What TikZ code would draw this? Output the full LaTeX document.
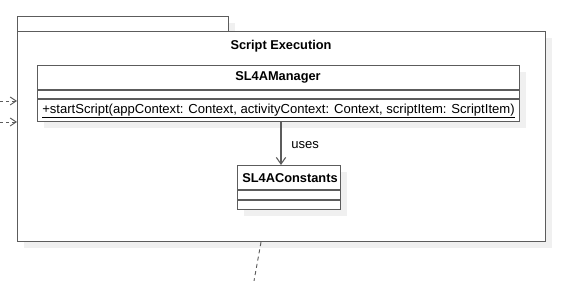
\documentclass[tikz,border=0pt]{standalone}
\usepackage{fontspec}
\setmainfont{Liberation Sans}
\usetikzlibrary{arrows.meta}

\definecolor{umlline}{HTML}{5C5C5C}
\definecolor{umlshade}{HTML}{F0F0F0}

\tikzset{
	umlbox/.style={draw=umlline, fill=white, line width=0.9pt, inner sep=0pt, anchor=north west},
	umlshadow/.style={fill=umlshade},
	umltitle/.style={font=\bfseries\fontsize{9.6}{11}\selectfont, inner sep=0pt},
	umltext/.style={font=\fontsize{9.8}{11}\selectfont, inner sep=0pt},
	uses/.style={draw=umlline, line width=0.9pt, -{Straight Barb[length=5pt, width=7pt, line width=0.8pt]}},
	dep/.style={draw=umlline, line width=0.7pt, dash pattern=on 2.5pt off 2pt, -{Straight Barb[length=4.5pt, width=6pt, line width=0.7pt]}}
}

\begin{document}
\begin{tikzpicture}[x=0.75pt, y=-0.75pt]
\useasboundingbox (0,0) rectangle (565,281);

% package with its tab
\fill[umlshadow] (24,23) rectangle (235,31);
\fill[umlshadow] (24,38) rectangle (552,248);
\node[umlbox, minimum width=158.25pt, minimum height=11.25pt] (pkgtab) at (17,16) {};
\node[umlbox, minimum width=396pt, minimum height=157.5pt] (pkg) at (17,31) {};
\node[umltitle] (pkgname) at (281,46) {Script Execution};

% SL4AManager
\fill[umlshadow] (44,72) rectangle (526,128);
\node[umlbox, minimum width=361.5pt, minimum height=42pt] (mgr) at (37,65) {};
\draw[draw=umlline, line width=0.9pt] (mgr.west |- 0,90) -- (mgr.east |- 0,90);
\draw[draw=umlline, line width=0.9pt] (mgr.west |- 0,99) -- (mgr.east |- 0,99);
\node[umltitle] (mgrname) at (278,77) {SL4AManager};
\node[umltext, anchor=west] (mgrop) at (42,111) {\underline{+startScript(appContext: Context, activityContext: Context, scriptItem: ScriptItem)}};

% SL4AConstants
\fill[umlshadow] (244,172) rectangle (347,216);
\node[umlbox, minimum width=77.25pt, minimum height=33pt] (const) at (237,165) {};
\draw[draw=umlline, line width=0.9pt] (const.west |- 0,190) -- (const.east |- 0,190);
\draw[draw=umlline, line width=0.9pt] (const.west |- 0,200) -- (const.east |- 0,200);
\node[umltitle] (constname) at (290,178) {SL4AConstants};

\coordinate (usesx) at (281,0);
\draw[uses] (mgr.south -| usesx) -- (const.north -| usesx);
\node[umltext, anchor=west] (useslbl) at (291,145) {uses};

% dependencies crossing the package border
\coordinate (in1) at (0,101);
\coordinate (in2) at (0,122);
\coordinate (out1) at (254,281);
\foreach \from in {in1,in2}
{
	\draw[dep] (\from) -- (pkg.west |- \from);
}
\draw[draw=umlline, line width=0.7pt, dash pattern=on 3pt off 2.5pt] (pkg.south -| 261,0) -- (out1);

\end{tikzpicture}
\end{document}
